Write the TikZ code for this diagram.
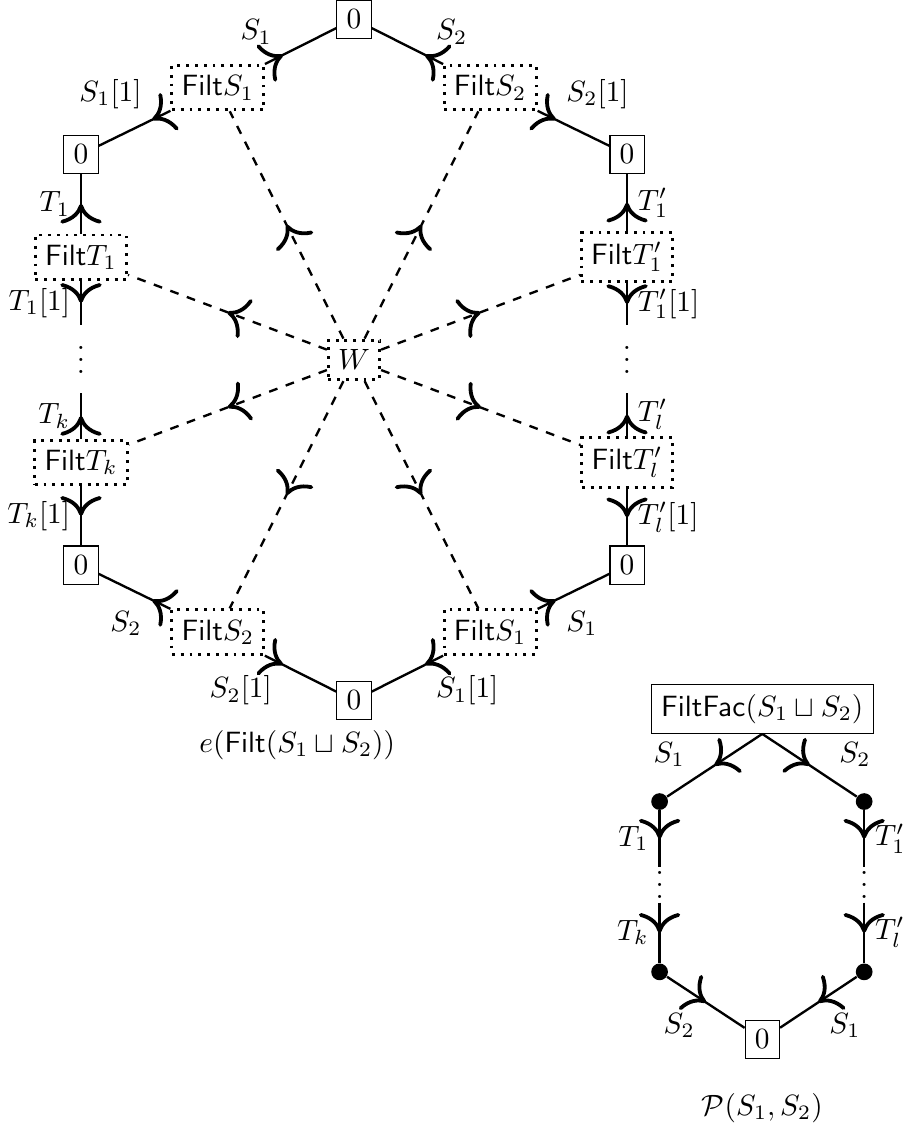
\documentclass[tikz,border=0pt]{standalone}
\usepackage{amsmath,amssymb}
\usepackage{tikz}
\usetikzlibrary{arrows.meta,decorations.markings}
\newcommand\coldots{\vbox{\baselineskip4pt\lineskiplimit0pt\hbox{.}\hbox{.}\hbox{.}}}

\begin{document}
\begin{tikzpicture}[
    zero/.style={draw},
    filt/.style={draw,line width=1pt,dotted},
    gap/.style={inner sep=0pt},
    pt/.style={circle,fill,inner sep=0pt,minimum size=5.7pt},
    mid/.style={thick,postaction={decorate},
      decoration={markings,mark=at position #1 with {\arrow{To[scale=2,line width=1.3pt]}}}},
    mid/.default=0.5,
    wire/.style={mid,dashed}
  ]
  \useasboundingbox (-4.24,-9.20) rectangle (6.57,4.31);
  \node[zero] (zt) at (0,4.08) {$0$};
  \node[filt] (fs1) at (-1.63,3.26) {$\mathsf{Filt}S_1$};
  \node[filt] (fs2) at (1.63,3.26) {$\mathsf{Filt}S_2$};
  \node[zero] (zul) at (-3.27,2.46) {$0$};
  \node[zero] (zur) at (3.27,2.46) {$0$};
  \node[filt] (ft1) at (-3.27,1.23) {$\mathsf{Filt}T_1$};
  \node[filt] (ft1p) at (3.27,1.23) {$\mathsf{Filt}T'_1$};
  \coordinate (lu) at (-3.27,0.42);
  \coordinate (ru) at (3.27,0.42);
  \node[gap] (ldots) at (-3.27,0) {\coldots};
  \node[gap] (rdots) at (3.27,0) {\coldots};
  \coordinate (ll) at (-3.27,-0.40);
  \coordinate (rl) at (3.27,-0.40);
  \node[filt] (w) at (0,0) {$W$};
  \node[filt] (ftk) at (-3.27,-1.23) {$\mathsf{Filt}T_k$};
  \node[filt] (ftl) at (3.27,-1.23) {$\mathsf{Filt}T'_l$};
  \node[zero] (zll) at (-3.27,-2.46) {$0$};
  \node[zero] (zlr) at (3.27,-2.46) {$0$};
  \node[filt] (fs2b) at (-1.63,-3.26) {$\mathsf{Filt}S_2$};
  \node[filt] (fs1b) at (1.63,-3.26) {$\mathsf{Filt}S_1$};
  \node[zero] (zb) at (0,-4.08) {$0$};
  \node (cap1) at (-0.68,-4.61) {$e(\mathsf{Filt}(S_1\sqcup S_2))$};

  \draw[mid=.25] (fs1) -- node[pos=.25,above left] {$S_1$} (zt);
  \draw[mid=.25] (fs2) -- node[pos=.25,above right] {$S_2$} (zt);
  \draw[mid=.25] (fs1) -- node[pos=.25,above left] {$S_1[1]$} (zul);
  \draw[mid=.25] (fs2) -- node[pos=.25,above right] {$S_2[1]$} (zur);
  \draw[mid] (ft1) -- node[left] {$T_1$} (zul);
  \draw[mid] (ft1p) -- node[right] {$T'_1$} (zur);
  \draw[mid] (ft1) -- node[left] {$T_1[1]$} (lu);
  \draw[mid] (ft1p) -- node[right] {$T'_1[1]$} (ru);
  \draw[mid] (ftk) -- node[left] {$T_k$} (ll);
  \draw[mid] (ftl) -- node[right] {$T'_l$} (rl);
  \draw[mid] (ftk) -- node[left] {$T_k[1]$} (zll);
  \draw[mid] (ftl) -- node[right] {$T'_l[1]$} (zlr);
  \draw[mid=.25] (fs2b) -- node[pos=.25,below left] {$S_2$} (zll);
  \draw[mid=.25] (fs1b) -- node[pos=.25,below right] {$S_1$} (zlr);
  \draw[mid=.25] (fs2b) -- node[pos=.25,below left] {$S_2[1]$} (zb);
  \draw[mid=.25] (fs1b) -- node[pos=.25,below right] {$S_1[1]$} (zb);
  \foreach \n in {fs1,fs2,ft1,ft1p,ftk,ftl,fs2b,fs1b}
    \draw[wire] (w) -- (\n);

  \node[zero] (ff) at (4.89,-4.18) {$\mathsf{FiltFac}(S_1\sqcup S_2)$};
  \node[pt] (dl) at (3.66,-5.29) {};
  \node[pt] (dr) at (6.11,-5.29) {};
  \coordinate (dlu) at (3.66,-6.07);
  \coordinate (dru) at (6.11,-6.07);
  \node[gap] (ldots2) at (3.66,-6.29) {\coldots};
  \node[gap] (rdots2) at (6.11,-6.29) {\coldots};
  \coordinate (dll) at (3.66,-6.50);
  \coordinate (drl) at (6.11,-6.50);
  \node[pt] (dlb) at (3.66,-7.33) {};
  \node[pt] (drb) at (6.11,-7.33) {};
  \node[zero] (z) at (4.89,-8.14) {$0$};
  \node (cap2) at (4.89,-8.96) {$\mathcal{P}(S_1,S_2)$};

  \draw[mid] (ff.south) -- node[pos=.7,above left] {$S_1$} (dl);
  \draw[mid] (ff.south) -- node[pos=.7,above right] {$S_2$} (dr);
  \draw[mid] (dl) -- node[left] {$T_1$} (dlu);
  \draw[mid] (dr) -- node[right] {$T'_1$} (dru);
  \draw[mid] (dll) -- node[left] {$T_k$} (dlb);
  \draw[mid] (drl) -- node[right] {$T'_l$} (drb);
  \draw[mid] (dlb) -- node[below left] {$S_2$} (z);
  \draw[mid] (drb) -- node[below right] {$S_1$} (z);
\end{tikzpicture}
\end{document}
